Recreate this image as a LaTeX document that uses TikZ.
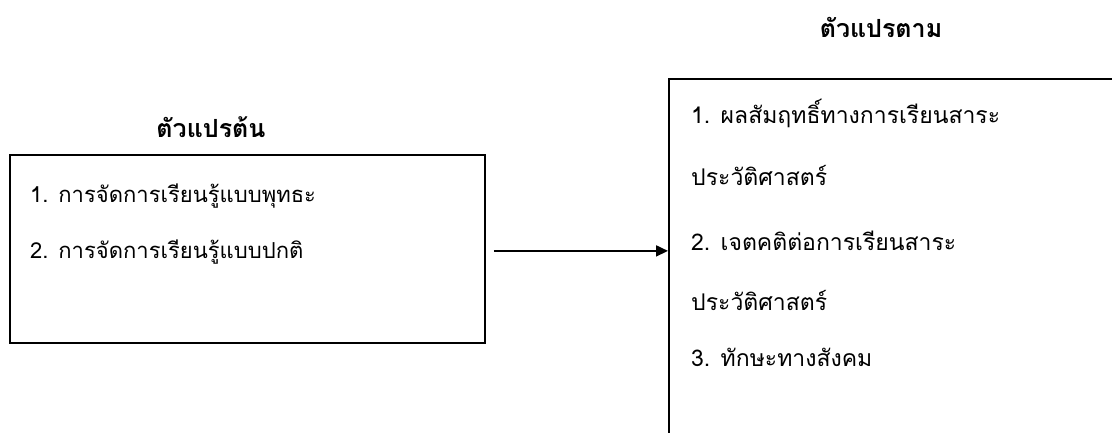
\documentclass[tikz,border=0pt]{standalone}
\usepackage{fontspec}
\usetikzlibrary{arrows.meta,positioning}
\newfontfamily\thaisans[Script=Thai]{Loma}
\tikzset{
  varbox/.style={draw,line width=1.8pt,anchor=north west,inner sep=0pt},
  vartitle/.style={anchor=base,inner sep=0pt,font=\thaisans\bfseries\fontsize{25}{30}\selectfont},
  leftitem/.style={anchor=base west,inner sep=0pt,font=\thaisans\fontsize{22}{26}\selectfont},
  rightitem/.style={anchor=base west,inner sep=0pt,font=\thaisans\fontsize{23}{28}\selectfont},
}

\begin{document}
\begin{tikzpicture}[x=1pt,y=-1pt]
\useasboundingbox (0,0) rectangle (1112,432);

% independent variables
\node[varbox,minimum width=475pt,minimum height=188pt] (indep) at (9,154) {};
\node[vartitle] (indeptitle) at (211,137) {ตัวแปรต้น};
\node[leftitem] (indepA) at (30,202) {1. การจัดการเรียนรู้แบบพุทธะ};
\node[leftitem] (indepB) at (30,258) {2. การจัดการเรียนรู้แบบปกติ};

% dependent variables (box runs off the page)
\node[varbox,minimum width=700pt,minimum height=500pt] (dep) at (668,78) {};
\node[vartitle] (deptitle) at (881,37) {ตัวแปรตาม};
\node[rightitem] (depA) at (691,123) {1. ผลสัมฤทธิ์ทางการเรียนสาระ};
\node[rightitem] (depA2) at (691,185) {ประวัติศาสตร์};
\node[rightitem] (depB) at (691,250) {2. เจตคติต่อการเรียนสาระ};
\node[rightitem] (depB2) at (691,310) {ประวัติศาสตร์};
\node[rightitem] (depC) at (691,366) {3. ทักษะทางสังคม};

\coordinate (arrowstart) at ([xshift=8pt,yshift=-2pt]indep.east);
\draw[line width=1.8pt,-{Triangle[length=12pt,width=11pt]}]
  (arrowstart) -- (arrowstart -| dep.west);
\end{tikzpicture}
\end{document}
